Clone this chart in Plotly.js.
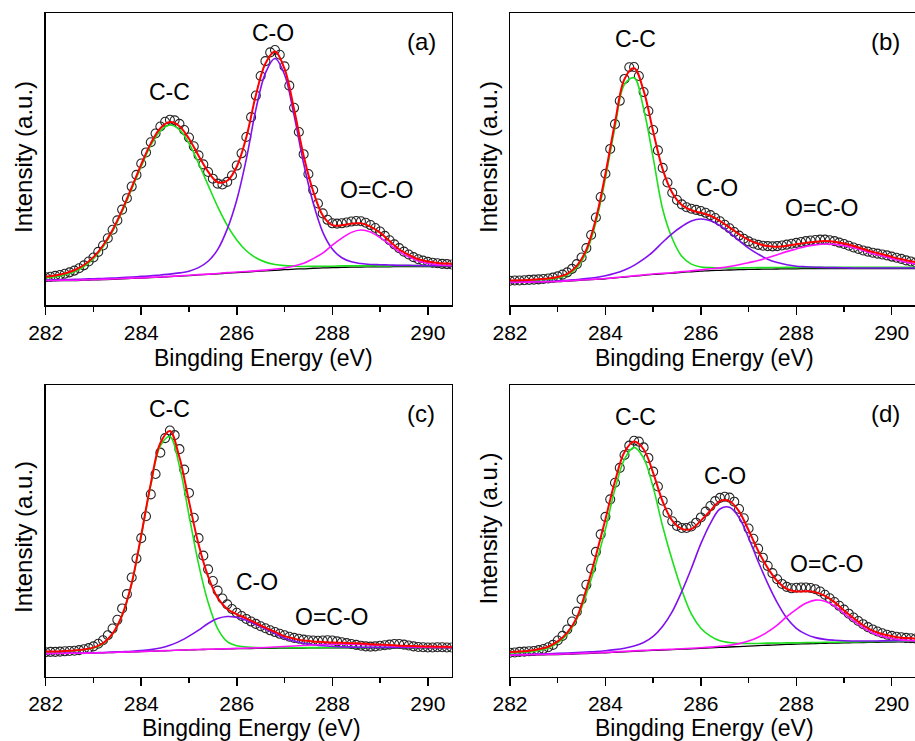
<!DOCTYPE html>
<html>
<head>
<meta charset="utf-8">
<script src="https://cdn.plot.ly/plotly-3.0.1.min.js"></script>
<style>
html, body { margin: 0; padding: 0; overflow: hidden; background: #fff; }
#chart { width: 920px; height: 741px; }
</style>
</head>
<body>
<div id="chart"></div>
<script>
// Binding energy sample points (eV)
const energyData = [282.0,282.1,282.2,282.3,282.4,282.5,282.6,282.7,282.8,282.9,
283.0,283.1,283.2,283.3,283.4,283.5,283.6,283.7,283.8,283.9,
284.0,284.1,284.2,284.3,284.4,284.5,284.6,284.7,284.8,284.9,
285.0,285.1,285.2,285.3,285.4,285.5,285.6,285.7,285.8,285.9,
286.0,286.1,286.2,286.3,286.4,286.5,286.6,286.7,286.8,286.9,
287.0,287.1,287.2,287.3,287.4,287.5,287.6,287.7,287.8,287.9,
288.0,288.1,288.2,288.3,288.4,288.5,288.6,288.7,288.8,288.9,
289.0,289.1,289.2,289.3,289.4,289.5,289.6,289.7,289.8,289.9,
290.0,290.1,290.2,290.3,290.4,290.5];
const energyFit = [282.0,282.2,282.4,282.6,282.8,283.0,283.2,283.4,283.6,283.8,284.0,284.2,284.4,284.6,
284.8,285.0,285.2,285.4,285.6,285.8,286.0,286.2,286.4,286.6,286.8,287.0,287.2,287.4,
287.6,287.8,288.0,288.2,288.4,288.6,288.8,289.0,289.2,289.4,289.6,289.8,290.0,290.2,290.4,290.6];

// ---- Panel (a) ----
const aData = [9.5,9.7,10.0,10.3,10.7,11.2,11.8,12.6,13.6,14.9,
16.3,18.2,20.4,22.9,25.8,29.0,32.7,36.6,40.6,44.6,
48.5,52.3,55.8,58.8,61.2,62.8,63.5,63.3,62.1,60.0,
57.4,54.4,51.3,48.2,45.6,43.3,41.6,41.3,42.2,44.4,
47.8,52.0,57.6,64.4,71.8,78.5,83.6,86.6,87.4,85.8,
81.8,75.2,67.6,59.3,51.7,44.9,39.4,34.8,31.4,29.2,
28.0,27.9,28.0,28.3,28.6,28.8,28.7,28.2,27.4,26.4,
25.2,23.7,22.2,20.8,19.5,18.3,17.3,16.4,15.7,15.2,
14.8,14.5,14.3,14.1,14.0,13.9];
const aBase = [8.3,8.3,8.4,8.4,8.5,8.6,8.7,8.8,9.0,9.1,9.2,9.4,9.5,9.7,
9.9,10.1,10.3,10.5,10.7,10.9,11.1,11.3,11.5,11.7,11.9,12.1,12.3,12.4,
12.6,12.7,12.8,12.9,13.0,13.0,13.1,13.1,13.1,13.2,13.2,13.2,13.2,13.2,13.2,13.2];
const aCC = [9.3,9.7,10.4,11.4,13.2,15.9,19.9,25.2,32.0,39.7,47.5,54.7,59.7,61.7,
60.1,55.4,48.6,41.1,33.7,27.3,22.3,18.6,16.2,14.7,13.9,13.5,13.3,13.2,
13.3,13.3,13.3,13.4,13.4,13.4,13.4,13.4,13.4,13.5,13.5,13.5,13.5,13.5,13.5,13.5];
const aCO = [8.6,8.6,8.7,8.8,8.9,9.0,9.1,9.2,9.4,9.6,9.8,10.0,10.3,10.6,
11.0,11.6,12.8,15.0,19.0,26.0,36.0,50.0,67.0,79.5,84.5,79.0,65.0,48.5,
35.0,25.0,19.2,16.2,14.8,14.2,13.9,13.8,13.7,13.6,13.6,13.5,13.5,13.5,13.5,13.5];
const aOCO = [8.4,8.4,8.5,8.5,8.6,8.7,8.8,8.9,9.1,9.2,9.3,9.5,9.6,9.8,
10.0,10.2,10.4,10.6,10.8,11.1,11.3,11.5,11.7,11.95,12.3,12.7,13.4,14.3,
15.9,17.8,20.5,22.9,24.9,25.7,25.0,23.1,20.8,18.3,16.5,15.1,14.3,13.8,13.6,13.45];
const aFit = [9.7,10.1,10.8,11.9,13.7,16.4,20.4,25.7,32.5,40.3,48.2,55.4,60.6,62.7,
61.3,57.0,51.2,45.7,42.1,42.6,47.4,57.5,71.9,82.8,86.9,81.0,67.1,51.2,
39.0,30.7,27.4,27.3,27.9,28.0,26.9,24.8,21.9,19.1,17.2,15.7,14.9,14.4,14.2,14.05];

// ---- Panel (b) ----
const bData = [8.3,8.4,8.4,8.5,8.6,8.7,8.8,8.9,9.1,9.4,
9.8,10.4,11.2,12.4,14.0,16.3,19.5,24.0,30.0,37.0,
45.0,53.5,62.0,70.0,77.5,81.5,81.6,78.5,73.0,66.5,
60.0,53.0,47.0,42.0,38.5,36.0,34.5,33.5,33.0,32.6,
32.2,31.6,30.8,29.8,28.7,27.5,26.3,25.0,23.8,22.7,
21.8,21.1,20.6,20.3,20.2,20.1,20.2,20.4,20.7,21.0,
21.3,21.6,21.9,22.1,22.3,22.4,22.4,22.2,21.9,21.4,
20.9,20.3,19.7,19.2,18.7,18.3,17.9,17.6,17.3,17.0,
16.6,16.2,15.8,15.3,14.9,14.6];
const bBase = [7.7,7.75,7.8,7.85,7.9,8.0,8.2,8.4,8.6,8.8,9.0,9.3,9.6,9.9,
10.2,10.5,10.7,10.9,11.2,11.4,11.6,11.8,11.9,12.0,12.1,12.2,12.25,12.3,
12.35,12.4,12.4,12.5,12.5,12.5,12.5,12.5,12.5,12.5,12.5,12.5,12.5,12.5,12.5,12.5];
const bCC = [8.2,8.3,8.4,8.6,8.8,9.3,10.3,12.8,18.1,28.3,43.5,60.9,75.7,77.9,
67.3,50.5,32.8,22.8,16.7,14.0,13.05,12.8,12.7,12.7,12.7,12.75,12.8,12.8,
12.85,12.9,12.9,12.9,12.9,12.9,12.9,12.9,12.9,12.9,12.9,12.9,12.9,12.9,12.9,12.9];
const bCO = [7.85,7.9,7.95,8.05,8.1,8.25,8.45,8.75,9.05,9.45,10.0,10.85,12.0,13.6,
15.7,18.3,21.5,24.5,26.9,28.8,29.5,28.9,27.2,24.8,22.1,19.5,17.45,15.7,
14.55,13.8,13.3,13.1,12.95,12.85,12.8,12.75,12.7,12.7,12.7,12.7,12.7,12.7,12.7,12.7];
const bOCO = [7.75,7.8,7.85,7.9,7.95,8.06,8.27,8.47,8.67,8.87,9.08,9.38,9.7,10.0,
10.3,10.63,10.85,11.08,11.44,11.71,12.03,12.4,12.74,13.2,13.8,14.5,15.25,16.2,
17.25,18.3,19.2,20.1,20.6,20.9,20.8,20.35,19.6,18.7,17.6,16.8,15.9,15.1,14.35,13.9];
const bFit = [8.4,8.5,8.6,8.85,9.05,9.6,10.7,13.4,19.0,29.5,45.0,62.5,77.5,81.2,
73.5,59.5,46.5,38.5,34.3,32.5,31.6,30.6,28.8,26.6,24.3,22.3,21.0,20.2,
20.0,20.3,20.8,21.3,21.7,21.9,21.7,21.1,20.2,19.2,18.2,17.4,16.5,15.7,15.0,14.5];

// ---- Panel (c) ----
const cData = [8.4,8.5,8.5,8.6,8.7,8.8,8.9,9.1,9.4,9.8,
10.4,11.3,12.5,14.2,16.5,19.5,23.4,28.3,34.0,40.5,
47.5,55.0,62.5,69.5,76.8,81.8,84.4,82.8,78.0,71.0,
63.0,54.5,47.5,41.5,36.8,32.8,29.5,26.8,24.8,23.2,
21.9,20.8,19.8,18.9,18.1,17.3,16.6,15.9,15.3,14.7,
14.2,13.7,13.3,13.0,12.7,12.5,12.4,12.3,12.4,12.5,
12.4,12.1,11.8,11.5,11.2,10.9,10.6,10.4,10.3,10.4,
10.6,10.8,11.0,11.2,11.2,11.0,10.7,10.4,10.2,10.1,
10.0,10.0,10.1,10.1,10.0,10.0];
const cBase = [7.9,7.94,7.98,8.02,8.06,8.1,8.2,8.3,8.4,8.5,8.6,8.72,8.84,8.96,
9.08,9.2,9.28,9.36,9.44,9.52,9.6,9.64,9.68,9.72,9.76,9.8,9.82,9.84,
9.86,9.88,9.9,9.9,9.9,9.9,9.9,9.9,9.9,9.9,9.9,9.9,9.9,9.9,9.9,9.9];
const cCC = [8.5,8.55,8.75,8.9,9.25,9.85,11.3,14.6,20.9,31.8,48.2,65.6,79.1,82.3,
72.2,55.4,38.7,25.5,16.5,12.0,10.6,10.2,10.0,9.95,9.95,9.95,9.95,9.95,
9.97,9.98,10.0,10.0,10.0,10.0,10.0,10.0,10.0,10.0,10.0,10.0,10.0,10.0,10.0,10.0];
const cCO = [7.97,8.02,8.06,8.1,8.15,8.2,8.32,8.43,8.57,8.72,8.93,9.27,9.84,10.76,
12.1,13.9,15.98,18.26,19.94,20.62,20.3,19.34,17.88,16.32,14.76,13.2,12.22,11.45,
10.97,10.6,10.37,10.23,10.15,10.1,10.05,10.05,10.05,10.05,10.05,10.05,10.05,10.05,10.05,10.05];
const cOCO = [7.92,7.96,8.0,8.04,8.08,8.12,8.22,8.32,8.42,8.52,8.62,8.74,8.86,8.99,
9.11,9.23,9.31,9.4,9.49,9.58,9.7,9.78,9.88,10.01,10.16,10.32,10.52,10.71,
10.86,11.05,11.15,11.2,11.15,11.07,10.9,10.77,10.6,10.42,10.3,10.19,10.1,10.04,10.0,9.96];
const cFit = [8.6,8.65,8.85,9.0,9.35,9.97,11.45,14.75,21.1,32.05,48.55,66.2,80.1,84.2,
75.2,60.1,45.4,34.4,27.05,23.2,21.4,20.0,18.4,16.8,15.35,13.9,13.05,12.4,
12.1,11.9,11.7,11.6,11.5,11.4,11.15,11.0,10.85,10.65,10.55,10.45,10.35,10.3,10.25,10.2];

// ---- Panel (d) ----
const dData = [8.2,8.3,8.5,8.6,8.7,8.8,9.1,9.5,10.1,10.9,
12.4,14.0,16.2,18.9,22.3,26.5,31.5,37.0,42.8,48.8,
54.8,60.8,66.5,71.6,76.0,79.2,80.9,80.6,78.6,75.0,
70.3,65.2,60.3,56.2,53.3,51.7,51.0,51.0,51.5,52.8,
54.6,56.6,58.5,60.2,61.3,61.7,61.4,60.0,57.5,54.3,
50.8,47.3,43.9,40.8,38.0,35.5,33.4,31.8,30.8,30.3,
30.5,30.6,30.6,30.4,30.0,29.2,28.1,26.9,25.6,24.3,
23.0,21.6,20.3,19.1,18.0,17.0,16.2,15.5,14.9,14.4,
14.0,13.7,13.5,13.3,13.2,13.1];
const dBase = [7.3,7.36,7.42,7.48,7.54,7.6,7.72,7.84,7.96,8.08,8.2,8.36,8.52,8.68,
8.84,9.0,9.14,9.28,9.42,9.56,9.7,9.86,10.02,10.18,10.34,10.5,10.64,10.78,
10.92,11.06,11.2,11.28,11.36,11.44,11.52,11.6,11.66,11.72,11.78,11.84,11.9,11.94,11.98,12.0];
const dCC = [8.1,8.26,8.52,9.0,9.84,11.6,14.6,19.7,28.3,38.7,50.6,64.3,74.6,78.6,
74.9,64.9,51.5,39.9,29.7,21.5,16.6,13.9,12.3,11.7,11.4,11.4,11.4,11.5,
11.5,11.6,11.6,11.7,11.7,11.8,11.8,11.9,11.9,12.0,12.0,12.1,12.1,12.2,12.2,12.3];
const dCO = [7.55,7.63,7.71,7.79,7.88,7.99,8.13,8.3,8.49,8.66,8.92,9.28,9.77,10.5,
11.7,13.8,17.3,22.3,29.2,37.1,45.6,52.6,57.5,58.1,54.6,47.6,39.5,32.0,
25.4,20.1,16.6,14.6,13.4,12.8,12.5,12.3,12.26,12.25,12.26,12.27,12.3,12.3,12.32,12.32];
const dOCO = [7.4,7.46,7.52,7.58,7.64,7.7,7.82,7.94,8.07,8.2,8.33,8.5,8.67,8.85,
9.02,9.2,9.27,9.42,9.58,9.74,9.92,10.14,10.42,10.78,11.34,12.2,13.54,15.38,
17.72,20.56,23.1,25.18,26.26,25.84,24.22,21.7,19.16,16.82,14.98,13.84,13.1,12.64,12.43,12.3];
const dFit = [8.45,8.63,8.91,9.41,10.28,12.09,15.11,20.26,30.0,41.5,54.0,67.0,77.0,80.6,
77.98,69.9,60.0,53.5,50.7,50.6,53.5,56.88,60.2,60.2,56.7,50.2,43.2,37.3,
32.8,30.1,29.2,29.3,29.0,27.7,25.56,22.72,20.1,17.63,15.78,14.63,13.9,13.36,13.19,13.02];

// Peak labels and panel tags
const peakLabels = ["C-C", "C-O", "O=C-O"];
const panelTags = ["(a)", "(b)", "(c)", "(d)"];
const tickVals = [282, 284, 286, 288, 290];
const xTitle = "Bingding Energy (eV)";
const yTitle = "Intensity (a.u.)";

const panels = [
  {data: aData, base: aBase, cc: aCC, co: aCO, oco: aOCO, fit: aFit,
   lab: [[284.60, 73.1], [286.75, 93.1], [288.93, 39.4]]},
  {data: bData, base: bBase, cc: bCC, co: bCO, oco: bOCO, fit: bFit,
   lab: [[284.64, 91.2], [286.33, 40.0], [288.52, 33.1]]},
  {data: cData, base: cBase, cc: cCC, co: cCO, oco: cOCO, fit: cFit,
   lab: [[284.60, 91.7], [286.42, 32.6], [287.99, 20.6]]},
  {data: dData, base: dBase, cc: dCC, co: dCO, oco: dOCO, fit: dFit,
   lab: [[284.62, 89.1], [286.51, 68.8], [288.64, 38.6]]}
];

const FONT = "Liberation Sans, Arial, sans-serif";
const traces = [];
const annotations = [];
panels.forEach((p, i) => {
  const xa = i === 0 ? 'x' : 'x' + (i + 1);
  const ya = i === 0 ? 'y' : 'y' + (i + 1);
  traces.push({x: energyData, y: p.data, xaxis: xa, yaxis: ya, type: 'scatter', mode: 'markers',
    marker: {symbol: 'circle-open', size: 9, color: '#262626', line: {width: 1.1, color: '#262626'}},
    name: 'Raw', showlegend: false});
  const lines = [
    [p.base, '#000000', 1.3, 'Background'],
    [p.cc, '#1be01b', 1.6, 'C-C'],
    [p.co, '#8010f0', 1.6, 'C-O'],
    [p.oco, '#ff10ff', 1.6, 'O=C-O'],
    [p.fit, '#ff0000', 2.0, 'Fit']
  ];
  lines.forEach(l => traces.push({x: energyFit, y: l[0], xaxis: xa, yaxis: ya, type: 'scatter', mode: 'lines',
    line: {color: l[1], width: l[2], shape: 'spline', smoothing: 1}, name: l[3], showlegend: false}));
  p.lab.forEach((pos, k) => annotations.push({xref: xa, yref: ya, x: pos[0], y: pos[1], text: peakLabels[k],
    showarrow: false, font: {family: FONT, size: 23, color: '#000'}, xanchor: 'center', yanchor: 'middle'}));
  annotations.push({xref: xa, yref: ya, x: 289.86, y: 90.3, text: panelTags[i], showarrow: false,
    font: {family: FONT, size: 24, color: '#000'}, xanchor: 'center', yanchor: 'middle'});
});

const W = 920, H = 741;
// axis titles placed as paper annotations
const xt = [[263.3, 358], [704, 358], [251.7, 728], [704, 728]];
const yt = [[23.3, 156.7], [488.3, 156.7], [23.3, 536.7], [488.3, 528.3]];
xt.forEach(t => annotations.push({xref: 'paper', yref: 'paper', x: t[0] / W, y: 1 - t[1] / H, text: xTitle,
  showarrow: false, font: {family: FONT, size: 23, color: '#000'}, xanchor: 'center', yanchor: 'middle'}));
yt.forEach(t => annotations.push({xref: 'paper', yref: 'paper', x: t[0] / W, y: 1 - t[1] / H, text: yTitle,
  textangle: -90, showarrow: false, font: {family: FONT, size: 24, color: '#000'}, xanchor: 'center', yanchor: 'middle'}));

function xAxis(left, right, anchor) {
  return {domain: [left / W, right / W], range: [282, 290.5], anchor: anchor,
    showline: true, mirror: true, linecolor: '#000', linewidth: 1.5,
    showgrid: false, zeroline: false,
    ticks: 'outside', ticklen: 8, tickwidth: 1.5, tickcolor: '#000',
    tickvals: tickVals, ticktext: tickVals.map(String),
    tickfont: {family: FONT, size: 21, color: '#000'},
    minor: {ticks: 'outside', ticklen: 5, tickwidth: 1.5, tickcolor: '#000', dtick: 1, tick0: 282, showgrid: false}};
}
function yAxis(top, bottom, anchor) {
  return {domain: [1 - bottom / H, 1 - top / H], range: [0, 100], anchor: anchor,
    showline: true, mirror: true, linecolor: '#000', linewidth: 1.5,
    showgrid: false, zeroline: false, ticks: '', showticklabels: false};
}

const layout = {
  width: W, height: H,
  margin: {l: 0, r: 0, t: 0, b: 0},
  paper_bgcolor: '#fff', plot_bgcolor: '#fff',
  showlegend: false,
  font: {family: FONT, color: '#000'},
  xaxis: xAxis(45.7, 451.7, 'y'),
  yaxis: yAxis(13.3, 305, 'x'),
  xaxis2: xAxis(510, 915.6, 'y2'),
  yaxis2: yAxis(13.3, 305, 'x2'),
  xaxis3: xAxis(45.7, 451.7, 'y3'),
  yaxis3: yAxis(385, 676.7, 'x3'),
  xaxis4: xAxis(510, 915.6, 'y4'),
  yaxis4: yAxis(385, 676.7, 'x4'),
  annotations: annotations
};

Plotly.newPlot('chart', traces, layout, {displayModeBar: false, staticPlot: true});
</script>
</body>
</html>
